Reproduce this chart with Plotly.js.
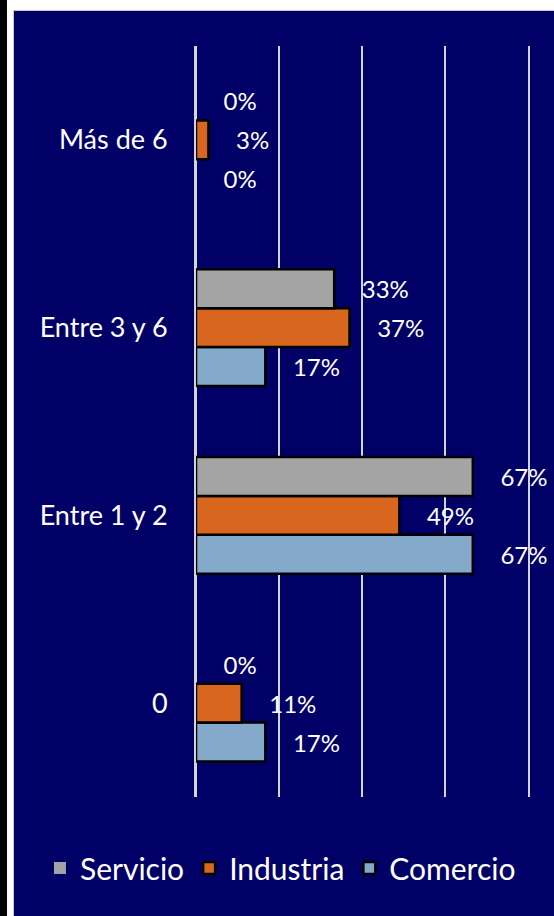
<!DOCTYPE html>
<html>
<head>
<meta charset="utf-8">
<script src="https://cdn.plot.ly/plotly-3.0.1.min.js"></script>
<style>
  html, body { margin: 0; padding: 0; background: #ffffff; width: 554px; height: 916px; overflow: hidden; }
  #strip { position: absolute; left: 0; top: 0; width: 7px; height: 916px; background: #000000; }
  #frame { position: absolute; left: 13px; top: 10px; width: 541px; height: 906px; background: #c8c8c8; }
  #chart { position: absolute; left: 14px; top: 11px; width: 540px; height: 905px; }
</style>
</head>
<body>
<div id="strip"></div>
<div id="frame"></div>
<div id="chart"></div>
<script>
// Categories (bottom to top on the chart)
const categories = ["0", "Entre 1 y 2", "Entre 3 y 6", "Más de 6"];
// Series values (share of respondents)
const servicio  = [0.000, 0.667, 0.333, 0.000];
const industria = [0.11, 0.49, 0.37, 0.03];
const comercio  = [0.167, 0.667, 0.167, 0.000];
const seriesNames = ["Servicio", "Industria", "Comercio"];
const xTicks = [0, 0.2, 0.4, 0.6, 0.8];

const FONT = "Lato, 'DejaVu Sans', sans-serif";
const pad = "\u00a0\u00a0\u00a0\u00a0";
function barTrace(name, values, color) {
  return {
    type: "bar",
    orientation: "h",
    name: name,
    y: categories,
    x: values,
    marker: {
      color: color,
      line: { color: "#000000", width: values.map(v => (v > 0 ? 2.5 : 0)) }
    },
    texttemplate: pad + "%{x:.0%}",
    textposition: "outside",
    cliponaxis: false,
    constraintext: "none",
    textfont: { family: FONT, size: 24, color: "#ffffff" },
    hoverinfo: "skip"
  };
}

const data = [
  barTrace(seriesNames[2], comercio, "#85a9cb"),
  barTrace(seriesNames[1], industria, "#d8661e"),
  barTrace(seriesNames[0], servicio, "#a4a4a4")
];

const layout = {
  width: 540,
  height: 905,
  paper_bgcolor: "#000066",
  plot_bgcolor: "#000066",
  margin: { l: 182, r: 26, t: 35, b: 119 },
  barmode: "group",
  bargap: 0.377,
  bargroupgap: 0,
  showlegend: true,
  xaxis: {
    range: [0, 0.8],
    tickvals: xTicks,
    showgrid: true,
    gridcolor: "#d4d4d4",
    gridwidth: 2,
    zeroline: true,
    zerolinecolor: "#d4d4d4",
    zerolinewidth: 2,
    showticklabels: false,
    ticks: "",
    fixedrange: true
  },
  yaxis: {
    type: "category",
    categoryorder: "array",
    categoryarray: categories,
    showgrid: false,
    zeroline: false,
    showline: true,
    mirror: true,
    linecolor: "#d4d4d4",
    linewidth: 2,
    ticks: "",
    ticklabelstandoff: 21,
    tickfont: { family: FONT, size: 27, color: "#ffffff" },
    fixedrange: true
  },
  legend: {
    orientation: "h",
    traceorder: "reversed",
    xref: "paper",
    yref: "paper",
    x: -0.47,
    xanchor: "left",
    y: -0.0945,
    yanchor: "middle",
    bgcolor: "rgba(0,0,0,0)",
    font: { family: FONT, size: 30, color: "#ffffff" }
  }
};

Plotly.newPlot("chart", data, layout, { displayModeBar: false, staticPlot: true });
</script>
</body>
</html>
